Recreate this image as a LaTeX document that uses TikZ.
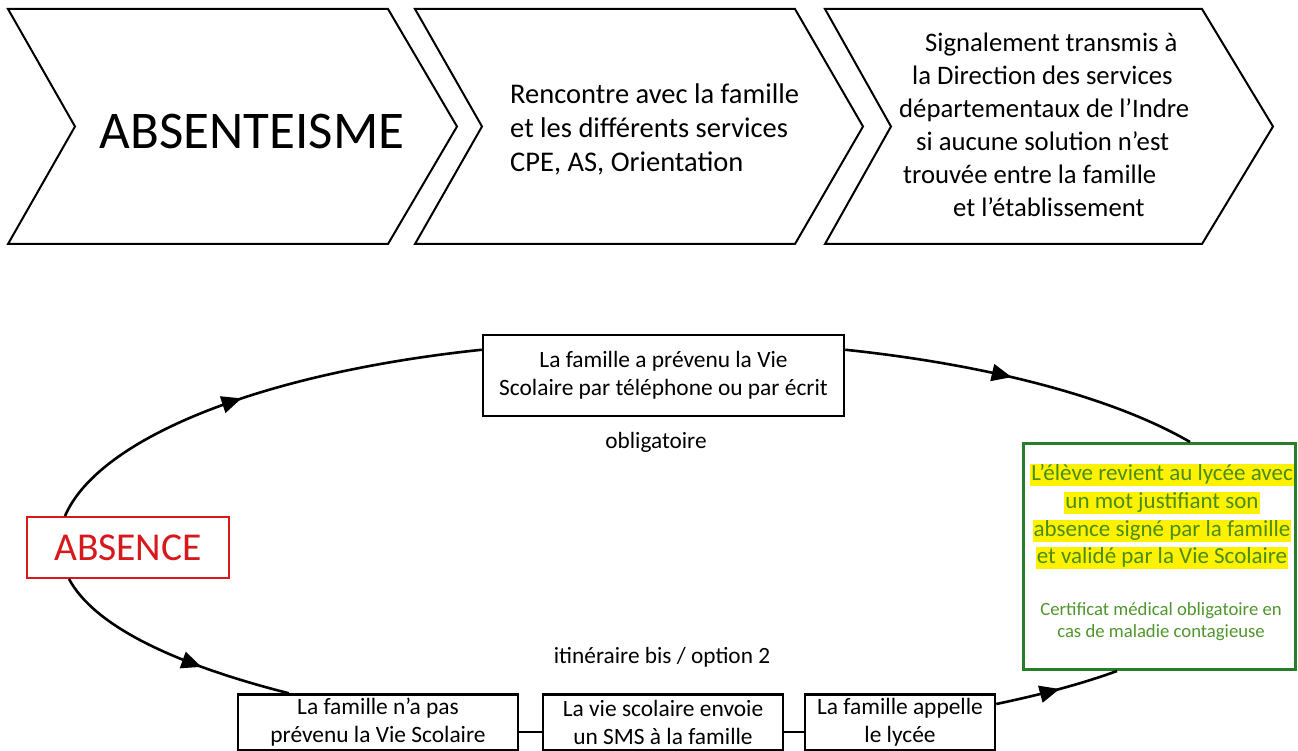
\documentclass[tikz,border=0pt]{standalone}
\usepackage{fontspec}
\setmainfont{Carlito}
\usetikzlibrary{arrows.meta,decorations.markings,calc}
\definecolor{absred}{RGB}{215,25,30}
\definecolor{boxgreen}{RGB}{40,125,45}
\definecolor{txtgreen}{RGB}{75,140,25}
\definecolor{smallgreen}{RGB}{80,150,45}
\begin{document}
\begin{tikzpicture}[x=1pt,y=-1pt,
  chev/.style={draw=black,line width=2pt,line join=miter},
  flow/.style={draw=black,line width=2.6pt},
  midarrow/.style={postaction={decorate},decoration={markings,
     mark=at position #1 with {\arrow{Triangle[length=20pt,width=17pt]}}}},
  stepbox/.style={draw=black,line width=2.5pt,fill=white,inner sep=0pt,align=center,
     font=\fontsize{23.4}{28}\selectfont},
  hl/.style={fill=yellow,inner xsep=1pt,inner ysep=0.5pt,text height=16pt,text depth=5pt,
     text=txtgreen,font=\fontsize{23}{27}\selectfont},
  plain/.style={inner sep=0pt,font=\fontsize{23.3}{27}\selectfont}
]
\useasboundingbox (0,0) rectangle (1298,751);

% chevrons
\draw[chev] (8,9) -- (388,9) -- (457,126.5) -- (388,244) -- (8,244) -- (75,126.5) -- cycle;
\draw[chev] (415,9) -- (795,9) -- (863,126.5) -- (795,244) -- (415,244) -- (482,126.5) -- cycle;
\draw[chev] (825,9) -- (1202,9) -- (1273,126.5) -- (1202,244) -- (825,244) -- (891,126.5) -- cycle;

\node[inner sep=0pt,font=\fontsize{53}{60}\selectfont] (t1) at (252,131.5) {ABSENTEISME};
\node[anchor=west,align=left,inner sep=0pt,font=\fontsize{28.5}{34}\selectfont] (t2) at (510,129)
  {Rencontre avec la famille\\et les différents services\\CPE, AS, Orientation};
\node[anchor=west,align=left,inner sep=0pt,font=\fontsize{26.7}{33}\selectfont] (t3) at (899,125)
  {\hspace*{26pt}Signalement transmis à\\
   \hspace*{13pt}la Direction des services\\
   départementaux de l’Indre\\
   \hspace*{17pt}si aucune solution n’est\\
   \hspace*{4pt}trouvée entre la famille\\
   \hspace*{54pt}et l’établissement};

% cycle nodes
\node[draw=absred,line width=2pt,fill=white,minimum width=202pt,minimum height=61pt,inner sep=0pt,
  text=absred,font=\fontsize{39.5}{44}\selectfont] (abs) at (128,547.5) {ABSENCE};
\node[stepbox,minimum width=361pt,minimum height=81pt] (top) at (663.5,375.5)
  {La famille a prévenu la Vie\\Scolaire par téléphone ou par écrit};
\node[stepbox,minimum width=280pt,minimum height=56pt] (b1) at (378,722.5)
  {La famille n'a pas\\prévenu la Vie Scolaire};
\node[stepbox,minimum width=240pt,minimum height=56pt] (b2) at (663,722.5)
  {La vie scolaire envoie\\un SMS à la famille};
\node[stepbox,minimum width=190pt,minimum height=56pt] (b3) at (900,722.5)
  {La famille appelle\\le lycée};
\node[draw=boxgreen,line width=3pt,fill=white,minimum width=272pt,minimum height=226pt,inner sep=0pt]
  (green) at (1159.5,556.5) {};
\node[hl] (hl1) at (1162,475) {L’élève revient au lycée avec};
\node[hl] (hl2) at (1162,503) {un mot justifiant son};
\node[hl] (hl3) at (1162,530.5) {absence signé par la famille};
\node[hl] (hl4) at (1162,558) {et validé par la Vie Scolaire};
\node[inner sep=0pt,align=center,text=smallgreen,font=\fontsize{18.7}{22}\selectfont] (cert) at (1161,622)
  {Certificat médical obligatoire en\\cas de maladie contagieuse};

\node[plain] (oblig) at (656,442) {obligatoire};
\node[plain] (itin) at (662,657) {itinéraire bis / option 2};

% connectors
\draw[flow,midarrow=0.47] ($(abs.north west)+(39,0)$) .. controls +(33.2,-77.4) and +(-222,23.3) .. ($(top.north west)+(0,16)$);
\draw[flow,midarrow=0.47] ($(top.north east)+(0,16)$) .. controls +(144.7,15.2) and +(-75.8,-44.1) .. ($(green.north west)+(168,0)$);
\draw[flow,midarrow=0.64] ($(abs.south west)+(43,0)$) .. controls +(25.2,46.7) and +(-116,-29.5) .. ($(b1.north west)+(52,0)$);
\draw[flow,midarrow=0.52] ($(b3.east)+(0,-18.5)$) .. controls +(45.3,-9.5) and +(-35.8,13) .. ($(green.south west)+(95,0)$);
\draw[flow] ($(b1.east)+(0,9.5)$) -- ($(b2.west)+(0,9.5)$);
\draw[flow] ($(b2.east)+(0,9.5)$) -- ($(b3.west)+(0,9.5)$);
\end{tikzpicture}
\end{document}
